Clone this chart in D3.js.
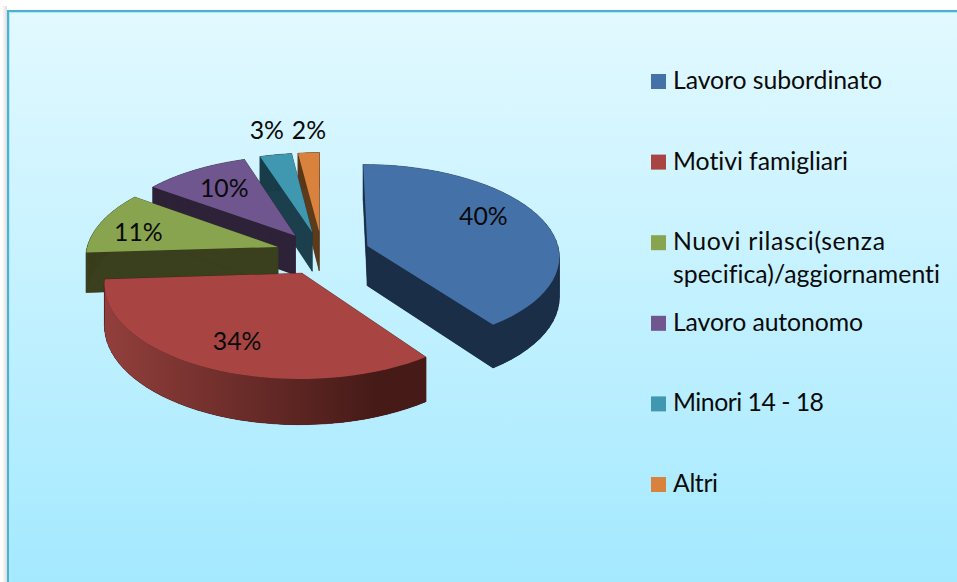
<!DOCTYPE html>
<html><head><meta charset="utf-8">
<script src="https://cdn.jsdelivr.net/npm/d3@7/dist/d3.min.js"></script>
<style>html,body{margin:0;padding:0;background:#fff;overflow:hidden}svg{display:block}text{font-family:Lato,"Noto Sans",sans-serif;fill:#0a0a0a;font-variant-ligatures:none}</style>
</head><body><svg id="c" width="957" height="582"></svg>
<script>
const categories = ["Lavoro subordinato","Motivi famigliari","Nuovi rilasci(senza specifica)/aggiornamenti","Lavoro autonomo","Minori 14 - 18","Altri"];
const values = [40,34,11,10,3,2];
const labels = ["40%","34%","11%","10%","3%","2%"];
const topColors = ["#4471a8","#a84542","#88a44f","#6f568f","#4098b0","#d9823e"];
const wallColors = ["#1a2e47","#451a17","#3a3f1e","#2e2238","#1b3f4c","#5c3a1a"];
const rimStart = ["#1a2e47","#923f3c","#3a3f1e","#2e2238","#1b3f4c","#5c3a1a"];
const labelFraction = [.63,.8,.75,.62,1.18,1.18];
const labelNudgeX = [5,9,-6,-7,-3,2];
const labelNudgeY = [-10,-4,6,-3,-10,-7];
const explodeBy = [.25,.24,.24,.24,.24,.24];
const drawOrder = [5,4,3,2,0,1];

const CX=322, CY=253, R=192, K=91, P=.10, D=40, FS=24.8;
const svg=d3.select("#c"), defs=svg.append("defs");
const bg=defs.append("linearGradient").attr("id","bg").attr("x1",0).attr("y1",0).attr("x2",0).attr("y2",1);
bg.append("stop").attr("offset",0).attr("stop-color","#e2f9ff");
bg.append("stop").attr("offset",1).attr("stop-color","#a4e9ff");
const sh=defs.append("linearGradient").attr("id","sh");
sh.append("stop").attr("offset",0).attr("stop-color","#ffffff");
sh.append("stop").attr("offset",1).attr("stop-color","#dcdcdc");
svg.append("rect").attr("x",2).attr("y",6).attr("width",5).attr("height",576).attr("fill","url(#sh)");
svg.append("rect").attr("x",7).attr("y",10).attr("width",950).attr("height",572).attr("fill","#4bb1cc");
svg.append("rect").attr("x",9).attr("y",12).attr("width",948).attr("height",570).attr("fill","#a9ecff");
svg.append("rect").attr("x",10).attr("y",13).attr("width",947).attr("height",569).attr("fill","url(#bg)");

const arcs=d3.pie().sort(null).startAngle(0).endAngle(2*Math.PI)(values);
const lineGen=d3.line();
function proj(u,v,z){const w=1-P*v;return [CX+R*u/w, CY+K*v/w+(z?D/w:0)];}
function disc(a,i,r){const m=(a.startAngle+a.endAngle)/2, e=explodeBy[i];
  return (t)=>[e*Math.sin(m)+r*Math.sin(t), -e*Math.cos(m)-r*Math.cos(t)];}

drawOrder.forEach(i=>{
  const a=arcs[i], ang=d3.range(0,41).map(k=>a.startAngle+(a.endAngle-a.startAngle)*k/40);
  const rim=ang.map(disc(a,i,1)), apex=disc(a,i,0)(0);
  const outline=[apex,...rim];
  const g=svg.append("g");
  const top=outline.map(p=>proj(p[0],p[1],false)), bot=outline.map(p=>proj(p[0],p[1],true));
  g.append("path").attr("d",lineGen(bot)+"Z").attr("fill",wallColors[i]);
  outline.forEach((p,k)=>{const n=(k+1)%outline.length;
    g.append("path").attr("d",lineGen([top[k],top[n],bot[n],bot[k]])+"Z").attr("fill",wallColors[i]).attr("stroke",wallColors[i]).attr("stroke-width",.5);});
  const rimTop=top.slice(1), rimBot=bot.slice(1);
  const visible=rim.map((p,k)=>Math.cos(ang[k])<0.05);
  const tTop=rimTop.filter((_,k)=>visible[k]), tBot=rimBot.filter((_,k)=>visible[k]);
  if(tTop.length>1){
    const id="rim"+i, ext=d3.extent(tTop,p=>p[0]);
    const gr=defs.append("linearGradient").attr("id",id).attr("gradientUnits","userSpaceOnUse").attr("x1",ext[0]).attr("x2",ext[1]).attr("y1",0).attr("y2",0);
    gr.append("stop").attr("offset",0).attr("stop-color",rimStart[i]);
    gr.append("stop").attr("offset",.85).attr("stop-color",wallColors[i]);
    g.append("path").attr("d",lineGen([...tTop,...tBot.slice().reverse()])+"Z").attr("fill",`url(#${id})`);
  }
  g.append("path").attr("d",lineGen(top)+"Z").attr("fill",topColors[i]);
});

arcs.forEach((a,i)=>{
  const p=disc(a,i,labelFraction[i])((a.startAngle+a.endAngle)/2), q=proj(p[0],p[1],false);
  svg.append("text").attr("x",q[0]+labelNudgeX[i]).attr("y",q[1]+labelNudgeY[i]).attr("text-anchor","middle").attr("dominant-baseline","middle").attr("font-size",FS).text(labels[i]);
});

const legendY=d3.scalePoint().domain(categories).range([81,484]);
const wrapped={"Nuovi rilasci(senza specifica)/aggiornamenti":["Nuovi rilasci(senza","specifica)/aggiornamenti"]};
const lineWidths={"Lavoro subordinato":209,"Motivi famigliari":175,"Nuovi rilasci(senza":212,"specifica)/aggiornamenti":267,"Lavoro autonomo":190,"Minori 14 - 18":151,"Altri":45};
categories.forEach((c,i)=>{
  const y=legendY(c);
  svg.append("rect").attr("x",651).attr("y",y-7).attr("width",15).attr("height",15).attr("fill",topColors[i]);
  const lines=wrapped[c]||[c];
  lines.forEach((l,k)=>svg.append("text").attr("x",673).attr("y",y+8+k*33).attr("font-size",FS).attr("textLength",lineWidths[l]).attr("lengthAdjust","spacing").text(l));
});
</script></body></html>
